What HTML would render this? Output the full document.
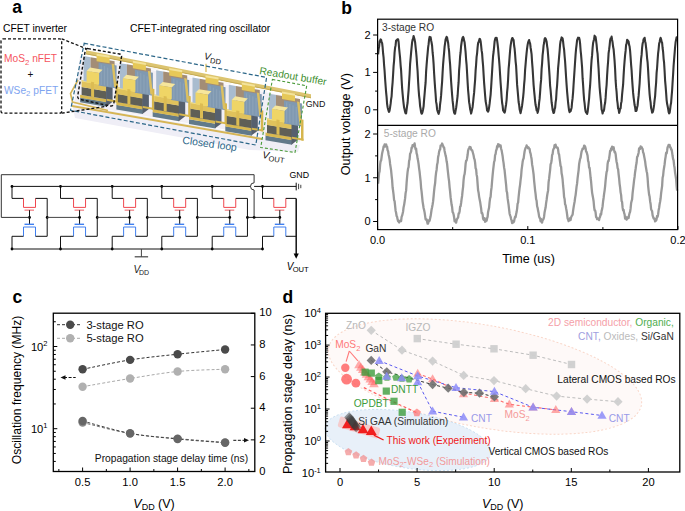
<!DOCTYPE html>
<html><head><meta charset="utf-8"><style>
html,body{margin:0;padding:0;background:#fff;}
svg{display:block;font-family:"Liberation Sans", sans-serif;}
</style></head><body>
<svg width="685" height="511" viewBox="0 0 685 511">
<defs><filter id="soft" x="-5%" y="-5%" width="110%" height="110%"><feGaussianBlur stdDeviation="0.45"/></filter></defs>
<rect width="685" height="511" fill="#fff"/>
<text x="12.30" y="12.70" font-size="17.5" fill="#000" text-anchor="start" font-weight="bold">a</text>
<text x="341.30" y="13.60" font-size="17.5" fill="#000" text-anchor="start" font-weight="bold">b</text>
<text x="12.60" y="302.60" font-size="17.5" fill="#000" text-anchor="start" font-weight="bold">c</text>
<text x="282.40" y="303.00" font-size="17.5" fill="#000" text-anchor="start" font-weight="bold">d</text>
<text x="3.00" y="31.80" font-size="10.3" fill="#000" text-anchor="start" >CFET inverter</text>
<text x="130.00" y="32.00" font-size="10.4" fill="#000" text-anchor="start" >CFET-integrated ring oscillator</text>
<polyline points="12.00,186.40 12.00,198.40 23.50,198.40" stroke="#111" stroke-width="1" fill="none" />
<polyline points="23.50,198.40 23.50,207.40 35.50,207.40 35.50,198.40" stroke="#f0474f" stroke-width="1" fill="none" />
<polyline points="35.50,198.40 47.20,198.40" stroke="#111" stroke-width="1" fill="none" />
<line x1="24.50" y1="210.20" x2="34.00" y2="210.20" stroke="#f39a9d" stroke-width="1.6" />
<line x1="29.50" y1="210.20" x2="29.50" y2="224.30" stroke="#111" stroke-width="1" />
<line x1="24.50" y1="224.30" x2="34.00" y2="224.30" stroke="#3f7ff0" stroke-width="1.4" />
<polyline points="23.50,236.30 23.50,227.00 35.50,227.00 35.50,236.30" stroke="#3f7ff0" stroke-width="1" fill="none" />
<polyline points="23.50,236.30 12.00,236.30 12.00,249.00" stroke="#111" stroke-width="1" fill="none" />
<polyline points="35.50,236.30 47.20,236.30" stroke="#111" stroke-width="1" fill="none" />
<line x1="47.20" y1="198.40" x2="47.20" y2="236.30" stroke="#111" stroke-width="1" />
<circle cx="47.20" cy="217.40" r="1.4" fill="#000"/>
<circle cx="12.00" cy="186.40" r="1.4" fill="#000"/>
<circle cx="12.00" cy="249.00" r="1.4" fill="#000"/>
<circle cx="29.50" cy="217.40" r="1.4" fill="#000"/>
<line x1="47.20" y1="217.40" x2="79.56" y2="217.40" stroke="#444" stroke-width="1" />
<polyline points="60.50,186.40 60.50,198.40 73.56,198.40" stroke="#111" stroke-width="1" fill="none" />
<polyline points="73.56,198.40 73.56,207.40 85.56,207.40 85.56,198.40" stroke="#f0474f" stroke-width="1" fill="none" />
<polyline points="85.56,198.40 97.26,198.40" stroke="#111" stroke-width="1" fill="none" />
<line x1="74.56" y1="210.20" x2="84.06" y2="210.20" stroke="#f39a9d" stroke-width="1.6" />
<line x1="79.56" y1="210.20" x2="79.56" y2="224.30" stroke="#111" stroke-width="1" />
<line x1="74.56" y1="224.30" x2="84.06" y2="224.30" stroke="#3f7ff0" stroke-width="1.4" />
<polyline points="73.56,236.30 73.56,227.00 85.56,227.00 85.56,236.30" stroke="#3f7ff0" stroke-width="1" fill="none" />
<polyline points="73.56,236.30 60.50,236.30 60.50,249.00" stroke="#111" stroke-width="1" fill="none" />
<polyline points="85.56,236.30 97.26,236.30" stroke="#111" stroke-width="1" fill="none" />
<line x1="97.26" y1="198.40" x2="97.26" y2="236.30" stroke="#111" stroke-width="1" />
<circle cx="97.26" cy="217.40" r="1.4" fill="#000"/>
<circle cx="60.50" cy="186.40" r="1.4" fill="#000"/>
<circle cx="60.50" cy="249.00" r="1.4" fill="#000"/>
<circle cx="79.56" cy="217.40" r="1.4" fill="#000"/>
<line x1="97.26" y1="217.40" x2="129.62" y2="217.40" stroke="#444" stroke-width="1" />
<polyline points="112.20,186.40 112.20,198.40 123.62,198.40" stroke="#111" stroke-width="1" fill="none" />
<polyline points="123.62,198.40 123.62,207.40 135.62,207.40 135.62,198.40" stroke="#f0474f" stroke-width="1" fill="none" />
<polyline points="135.62,198.40 147.32,198.40" stroke="#111" stroke-width="1" fill="none" />
<line x1="124.62" y1="210.20" x2="134.12" y2="210.20" stroke="#f39a9d" stroke-width="1.6" />
<line x1="129.62" y1="210.20" x2="129.62" y2="224.30" stroke="#111" stroke-width="1" />
<line x1="124.62" y1="224.30" x2="134.12" y2="224.30" stroke="#3f7ff0" stroke-width="1.4" />
<polyline points="123.62,236.30 123.62,227.00 135.62,227.00 135.62,236.30" stroke="#3f7ff0" stroke-width="1" fill="none" />
<polyline points="123.62,236.30 112.20,236.30 112.20,249.00" stroke="#111" stroke-width="1" fill="none" />
<polyline points="135.62,236.30 147.32,236.30" stroke="#111" stroke-width="1" fill="none" />
<line x1="147.32" y1="198.40" x2="147.32" y2="236.30" stroke="#111" stroke-width="1" />
<circle cx="147.32" cy="217.40" r="1.4" fill="#000"/>
<circle cx="112.20" cy="186.40" r="1.4" fill="#000"/>
<circle cx="112.20" cy="249.00" r="1.4" fill="#000"/>
<circle cx="129.62" cy="217.40" r="1.4" fill="#000"/>
<line x1="147.32" y1="217.40" x2="179.68" y2="217.40" stroke="#444" stroke-width="1" />
<polyline points="161.80,186.40 161.80,198.40 173.68,198.40" stroke="#111" stroke-width="1" fill="none" />
<polyline points="173.68,198.40 173.68,207.40 185.68,207.40 185.68,198.40" stroke="#f0474f" stroke-width="1" fill="none" />
<polyline points="185.68,198.40 197.38,198.40" stroke="#111" stroke-width="1" fill="none" />
<line x1="174.68" y1="210.20" x2="184.18" y2="210.20" stroke="#f39a9d" stroke-width="1.6" />
<line x1="179.68" y1="210.20" x2="179.68" y2="224.30" stroke="#111" stroke-width="1" />
<line x1="174.68" y1="224.30" x2="184.18" y2="224.30" stroke="#3f7ff0" stroke-width="1.4" />
<polyline points="173.68,236.30 173.68,227.00 185.68,227.00 185.68,236.30" stroke="#3f7ff0" stroke-width="1" fill="none" />
<polyline points="173.68,236.30 161.80,236.30 161.80,249.00" stroke="#111" stroke-width="1" fill="none" />
<polyline points="185.68,236.30 197.38,236.30" stroke="#111" stroke-width="1" fill="none" />
<line x1="197.38" y1="198.40" x2="197.38" y2="236.30" stroke="#111" stroke-width="1" />
<circle cx="197.38" cy="217.40" r="1.4" fill="#000"/>
<circle cx="161.80" cy="186.40" r="1.4" fill="#000"/>
<circle cx="161.80" cy="249.00" r="1.4" fill="#000"/>
<circle cx="179.68" cy="217.40" r="1.4" fill="#000"/>
<line x1="197.38" y1="217.40" x2="229.74" y2="217.40" stroke="#444" stroke-width="1" />
<polyline points="212.20,186.40 212.20,198.40 223.74,198.40" stroke="#111" stroke-width="1" fill="none" />
<polyline points="223.74,198.40 223.74,207.40 235.74,207.40 235.74,198.40" stroke="#f0474f" stroke-width="1" fill="none" />
<polyline points="235.74,198.40 247.44,198.40" stroke="#111" stroke-width="1" fill="none" />
<line x1="224.74" y1="210.20" x2="234.24" y2="210.20" stroke="#f39a9d" stroke-width="1.6" />
<line x1="229.74" y1="210.20" x2="229.74" y2="224.30" stroke="#111" stroke-width="1" />
<line x1="224.74" y1="224.30" x2="234.24" y2="224.30" stroke="#3f7ff0" stroke-width="1.4" />
<polyline points="223.74,236.30 223.74,227.00 235.74,227.00 235.74,236.30" stroke="#3f7ff0" stroke-width="1" fill="none" />
<polyline points="223.74,236.30 212.20,236.30 212.20,249.00" stroke="#111" stroke-width="1" fill="none" />
<polyline points="235.74,236.30 247.44,236.30" stroke="#111" stroke-width="1" fill="none" />
<line x1="247.44" y1="198.40" x2="247.44" y2="236.30" stroke="#111" stroke-width="1" />
<circle cx="247.44" cy="217.40" r="1.4" fill="#000"/>
<circle cx="212.20" cy="186.40" r="1.4" fill="#000"/>
<circle cx="212.20" cy="249.00" r="1.4" fill="#000"/>
<circle cx="229.74" cy="217.40" r="1.4" fill="#000"/>
<polyline points="262.50,186.40 262.50,198.40 273.80,198.40" stroke="#111" stroke-width="1" fill="none" />
<polyline points="273.80,198.40 273.80,207.40 285.80,207.40 285.80,198.40" stroke="#f0474f" stroke-width="1" fill="none" />
<polyline points="285.80,198.40 296.20,198.40" stroke="#111" stroke-width="1" fill="none" />
<line x1="274.80" y1="210.20" x2="284.30" y2="210.20" stroke="#f39a9d" stroke-width="1.6" />
<line x1="279.80" y1="210.20" x2="279.80" y2="224.30" stroke="#111" stroke-width="1" />
<line x1="274.80" y1="224.30" x2="284.30" y2="224.30" stroke="#3f7ff0" stroke-width="1.4" />
<polyline points="273.80,236.30 273.80,227.00 285.80,227.00 285.80,236.30" stroke="#3f7ff0" stroke-width="1" fill="none" />
<polyline points="273.80,236.30 262.50,236.30 262.50,249.00" stroke="#111" stroke-width="1" fill="none" />
<polyline points="285.80,236.30 296.20,236.30" stroke="#111" stroke-width="1" fill="none" />
<circle cx="262.50" cy="186.40" r="1.4" fill="#000"/>
<circle cx="262.50" cy="249.00" r="1.4" fill="#000"/>
<circle cx="279.80" cy="217.40" r="1.4" fill="#000"/>
<line x1="247.44" y1="217.40" x2="279.80" y2="217.40" stroke="#222" stroke-width="1" />
<circle cx="254.10" cy="217.40" r="1.4" fill="#000"/>
<line x1="12.00" y1="186.40" x2="250.60" y2="186.40" stroke="#111" stroke-width="1" />
<line x1="254.10" y1="186.40" x2="296.20" y2="186.40" stroke="#111" stroke-width="1" />
<path d="M254.1,217.4 L254.1,190 A3.6,3.6 0 0 1 254.1,182.8 L254.1,174.7 L1.3,174.7 L1.3,217.4 L29.5,217.4" stroke="#333" stroke-width="1" fill="none"/>
<line x1="12.00" y1="249.00" x2="262.50" y2="249.00" stroke="#111" stroke-width="1" />
<line x1="141.40" y1="249.00" x2="141.40" y2="256.80" stroke="#444" stroke-width="1" />
<line x1="134.70" y1="256.80" x2="148.10" y2="256.80" stroke="#444" stroke-width="1.2" />
<line x1="296.20" y1="182.70" x2="296.20" y2="190.40" stroke="#111" stroke-width="1" />
<line x1="298.60" y1="183.80" x2="298.60" y2="189.20" stroke="#111" stroke-width="0.8" />
<line x1="300.80" y1="184.80" x2="300.80" y2="188.20" stroke="#111" stroke-width="0.8" />
<text x="289.50" y="178.00" font-size="8.8" fill="#000" text-anchor="start" >GND</text>
<line x1="296.20" y1="198.40" x2="296.20" y2="254.00" stroke="#111" stroke-width="1.5" />
<path d="M293.6,253.5 L298.8,253.5 L296.2,258.7 Z" fill="#000"/>
<text x="286.80" y="269.50" font-size="10" fill="#000" text-anchor="start" ><tspan font-style="italic">V</tspan><tspan font-size="7.6" dy="2" dx="-0.8">OUT</tspan></text>
<text x="133.40" y="272.60" font-size="10.2" fill="#222" text-anchor="start" ><tspan font-style="italic">V</tspan><tspan font-size="7" dy="2.4" dx="-1.2">DD</tspan></text>
<path d="M378.10,54.34 L378.60,49.17 L379.10,46.45 L379.60,41.31 L380.10,40.88 L380.60,39.43 L381.10,39.77 L381.60,42.17 L382.10,42.97 L382.60,47.04 L383.10,53.49 L383.60,57.61 L384.10,65.26 L384.60,71.03 L385.10,79.05 L385.60,85.74 L386.10,92.16 L386.60,97.20 L387.10,103.96 L387.60,107.25 L388.10,109.21 L388.60,110.96 L389.10,111.93 L389.60,110.39 L390.10,107.34 L390.60,103.93 L391.10,99.40 L391.60,96.30 L392.10,88.16 L392.60,82.47 L393.10,74.47 L393.60,65.86 L394.10,60.60 L394.60,52.28 L395.10,47.66 L395.60,45.18 L396.10,40.43 L396.60,40.33 L397.10,39.54 L397.60,39.24 L398.10,39.20 L398.60,41.97 L399.10,48.29 L399.60,53.27 L400.10,57.97 L400.60,65.03 L401.10,70.36 L401.60,79.42 L402.10,87.89 L402.60,93.74 L403.10,99.04 L403.60,103.61 L404.10,107.55 L404.60,109.53 L405.10,111.99 L405.60,113.27 L406.10,113.46 L406.60,109.58 L407.10,105.91 L407.60,102.73 L408.10,96.10 L408.60,90.04 L409.10,81.94 L409.60,74.21 L410.10,63.98 L410.60,58.45 L411.10,52.67 L411.60,47.40 L412.10,42.34 L412.60,39.70 L413.10,38.60 L413.60,36.00 L414.10,37.89 L414.60,39.66 L415.10,42.17 L415.60,47.19 L416.10,51.73 L416.60,57.46 L417.10,64.91 L417.60,71.25 L418.10,81.48 L418.60,89.56 L419.10,95.86 L419.60,99.86 L420.10,106.12 L420.60,108.92 L421.10,112.28 L421.60,113.77 L422.10,113.22 L422.60,111.64 L423.10,109.23 L423.60,106.33 L424.10,99.65 L424.60,94.02 L425.10,87.82 L425.60,82.72 L426.10,71.68 L426.60,64.89 L427.10,58.66 L427.60,53.40 L428.10,47.68 L428.60,44.13 L429.10,39.34 L429.60,36.91 L430.10,37.09 L430.60,37.25 L431.10,40.28 L431.60,42.73 L432.10,45.78 L432.60,52.46 L433.10,57.04 L433.60,63.92 L434.10,73.00 L434.60,80.86 L435.10,87.97 L435.60,94.25 L436.10,101.90 L436.60,104.31 L437.10,109.47 L437.60,111.27 L438.10,112.67 L438.60,113.82 L439.10,112.22 L439.60,109.89 L440.10,104.20 L440.60,100.46 L441.10,95.39 L441.60,88.19 L442.10,81.89 L442.60,72.49 L443.10,64.39 L443.60,58.21 L444.10,52.81 L444.60,46.62 L445.10,43.09 L445.60,39.44 L446.10,38.27 L446.60,36.82 L447.10,37.53 L447.60,40.63 L448.10,42.56 L448.60,47.46 L449.10,51.42 L449.60,58.73 L450.10,64.34 L450.60,72.83 L451.10,81.30 L451.60,88.09 L452.10,94.94 L452.60,100.70 L453.10,105.23 L453.60,109.93 L454.10,112.59 L454.60,113.62 L455.10,113.70 L455.60,110.60 L456.10,108.01 L456.60,104.30 L457.10,100.20 L457.60,95.95 L458.10,88.28 L458.60,82.17 L459.10,70.37 L459.60,64.47 L460.10,56.48 L460.60,52.24 L461.10,46.02 L461.60,42.52 L462.10,39.53 L462.60,37.70 L463.10,36.98 L463.60,37.97 L464.10,40.65 L464.60,42.30 L465.10,47.22 L465.60,52.16 L466.10,59.54 L466.60,64.78 L467.10,73.22 L467.60,82.07 L468.10,90.26 L468.60,95.71 L469.10,102.14 L469.60,104.82 L470.10,108.98 L470.60,110.94 L471.10,113.59 L471.60,111.65 L472.10,109.36 L472.60,106.93 L473.10,102.29 L473.60,97.20 L474.10,92.88 L474.60,86.20 L475.10,80.17 L475.60,70.70 L476.10,64.58 L476.60,56.91 L477.10,53.31 L477.60,47.33 L478.10,42.93 L478.60,42.09 L479.10,40.46 L479.60,38.88 L480.10,39.16 L480.60,41.21 L481.10,45.43 L481.60,50.39 L482.10,53.41 L482.60,60.40 L483.10,65.98 L483.60,74.38 L484.10,82.61 L484.60,88.86 L485.10,95.22 L485.60,101.03 L486.10,103.82 L486.60,106.47 L487.10,110.67 L487.60,110.91 L488.10,111.69 L488.60,110.41 L489.10,107.37 L489.60,103.68 L490.10,99.06 L490.60,94.82 L491.10,87.74 L491.60,79.69 L492.10,71.41 L492.60,62.95 L493.10,55.76 L493.60,51.99 L494.10,47.02 L494.60,41.59 L495.10,39.21 L495.60,37.86 L496.10,38.25 L496.60,37.74 L497.10,40.34 L497.60,44.13 L498.10,48.44 L498.60,54.64 L499.10,60.22 L499.60,66.77 L500.10,74.88 L500.60,82.72 L501.10,89.37 L501.60,97.02 L502.10,102.77 L502.60,105.57 L503.10,110.32 L503.60,111.05 L504.10,111.98 L504.60,112.58 L505.10,110.92 L505.60,107.21 L506.10,104.23 L506.60,100.00 L507.10,92.09 L507.60,87.04 L508.10,79.39 L508.60,68.95 L509.10,63.62 L509.60,56.78 L510.10,50.51 L510.60,45.63 L511.10,42.57 L511.60,39.96 L512.10,38.27 L512.60,38.08 L513.10,39.19 L513.60,40.02 L514.10,45.49 L514.60,48.57 L515.10,54.53 L515.60,61.32 L516.10,65.84 L516.60,74.83 L517.10,84.67 L517.60,90.13 L518.10,95.81 L518.60,101.98 L519.10,104.71 L519.60,109.22 L520.10,111.17 L520.60,113.18 L521.10,110.52 L521.60,108.21 L522.10,105.46 L522.60,101.48 L523.10,97.35 L523.60,92.11 L524.10,84.71 L524.60,79.28 L525.10,69.93 L525.60,64.05 L526.10,58.09 L526.60,52.96 L527.10,48.35 L527.60,44.88 L528.10,42.40 L528.60,41.19 L529.10,40.01 L529.60,42.22 L530.10,43.34 L530.60,47.49 L531.10,50.77 L531.60,54.33 L532.10,62.40 L532.60,68.66 L533.10,76.76 L533.60,84.84 L534.10,90.56 L534.60,95.70 L535.10,101.01 L535.60,105.10 L536.10,107.14 L536.60,110.43 L537.10,108.88 L537.60,112.84 L538.10,110.92 L538.60,108.20 L539.10,102.64 L539.60,98.92 L540.10,92.45 L540.60,84.83 L541.10,79.89 L541.60,69.01 L542.10,63.38 L542.60,55.10 L543.10,50.78 L543.60,45.35 L544.10,43.01 L544.60,39.00 L545.10,38.11 L545.60,38.49 L546.10,39.95 L546.60,41.61 L547.10,45.87 L547.60,49.20 L548.10,55.15 L548.60,61.89 L549.10,69.07 L549.60,76.32 L550.10,85.61 L550.60,90.25 L551.10,96.06 L551.60,102.27 L552.10,105.68 L552.60,109.71 L553.10,111.56 L553.60,113.04 L554.10,112.41 L554.60,109.24 L555.10,107.89 L555.60,102.34 L556.10,99.04 L556.60,90.76 L557.10,85.33 L557.60,77.44 L558.10,68.10 L558.60,62.75 L559.10,56.81 L559.60,51.25 L560.10,44.42 L560.60,41.02 L561.10,39.67 L561.60,37.43 L562.10,37.87 L562.60,38.46 L563.10,41.54 L563.60,46.33 L564.10,49.59 L564.60,56.01 L565.10,61.50 L565.60,69.38 L566.10,77.55 L566.60,84.81 L567.10,91.69 L567.60,97.05 L568.10,102.74 L568.60,106.86 L569.10,110.53 L569.60,112.17 L570.10,111.33 L570.60,111.14 L571.10,109.41 L571.60,107.67 L572.10,102.22 L572.60,98.16 L573.10,92.36 L573.60,84.29 L574.10,76.62 L574.60,69.28 L575.10,61.67 L575.60,54.40 L576.10,48.53 L576.60,44.67 L577.10,40.23 L577.60,38.94 L578.10,37.67 L578.60,38.27 L579.10,37.77 L579.60,39.74 L580.10,43.68 L580.60,50.27 L581.10,55.10 L581.60,61.29 L582.10,67.60 L582.60,78.20 L583.10,84.87 L583.60,93.04 L584.10,99.62 L584.60,103.38 L585.10,108.48 L585.60,111.41 L586.10,112.56 L586.60,112.68 L587.10,113.93 L587.60,112.02 L588.10,107.98 L588.60,103.15 L589.10,98.50 L589.60,91.11 L590.10,85.69 L590.60,77.44 L591.10,67.24 L591.60,59.78 L592.10,55.15 L592.60,47.85 L593.10,43.07 L593.60,40.91 L594.10,39.17 L594.60,35.68 L595.10,36.91 L595.60,37.09 L596.10,40.57 L596.60,44.57 L597.10,50.27 L597.60,53.88 L598.10,61.91 L598.60,69.03 L599.10,78.77 L599.60,87.11 L600.10,92.87 L600.60,97.99 L601.10,102.90 L601.60,109.38 L602.10,111.01 L602.60,113.49 L603.10,111.35 L603.60,111.22 L604.10,109.63 L604.60,105.30 L605.10,103.06 L605.60,97.91 L606.10,90.23 L606.60,84.98 L607.10,75.48 L607.60,67.73 L608.10,61.53 L608.60,53.13 L609.10,49.69 L609.60,45.60 L610.10,40.42 L610.60,38.41 L611.10,38.98 L611.60,36.65 L612.10,39.89 L612.60,42.51 L613.10,46.84 L613.60,49.21 L614.10,54.98 L614.60,61.13 L615.10,69.14 L615.60,80.20 L616.10,87.18 L616.60,91.99 L617.10,99.80 L617.60,103.46 L618.10,108.53 L618.60,109.07 L619.10,112.97 L619.60,111.33 L620.10,108.47 L620.60,108.41 L621.10,103.25 L621.60,101.15 L622.10,94.36 L622.60,89.30 L623.10,84.72 L623.60,75.33 L624.10,67.27 L624.60,60.89 L625.10,55.11 L625.60,50.93 L626.10,44.83 L626.60,43.61 L627.10,39.78 L627.60,40.33 L628.10,41.13 L628.60,41.61 L629.10,44.93 L629.60,46.55 L630.10,50.78 L630.60,57.37 L631.10,64.56 L631.60,70.42 L632.10,79.00 L632.60,86.07 L633.10,92.68 L633.60,97.35 L634.10,101.08 L634.60,105.02 L635.10,107.27 L635.60,111.00 L636.10,111.03 L636.60,110.36 L637.10,107.42 L637.60,105.47 L638.10,100.16 L638.60,95.89 L639.10,89.70 L639.60,83.55 L640.10,74.49 L640.60,65.82 L641.10,58.83 L641.60,54.88 L642.10,47.93 L642.60,43.70 L643.10,41.78 L643.60,39.29 L644.10,38.73 L644.60,37.74 L645.10,41.18 L645.60,43.31 L646.10,47.71 L646.60,52.00 L647.10,58.37 L647.60,62.37 L648.10,69.92 L648.60,78.99 L649.10,87.05 L649.60,94.19 L650.10,99.08 L650.60,102.46 L651.10,108.04 L651.60,109.62 L652.10,112.60 L652.60,112.36 L653.10,110.95 L653.60,108.27 L654.10,104.91 L654.60,100.05 L655.10,96.37 L655.60,88.91 L656.10,82.97 L656.60,72.85 L657.10,67.75 L657.60,60.15 L658.10,53.26 L658.60,49.26 L659.10,43.89 L659.60,42.05 L660.10,39.38 L660.60,37.79 L661.10,39.13 L661.60,41.61 L662.10,42.71 L662.60,48.01 L663.10,51.77 L663.60,58.54 L664.10,62.99 L664.60,70.99 L665.10,80.62 L665.60,86.04 L666.10,92.65 L666.60,99.86 L667.10,103.80 L667.60,105.96 L668.10,108.64 L668.60,111.86 L669.10,113.38 L669.60,112.84 L670.10,109.69 L670.60,105.27 L671.10,102.78 L671.60,96.41 L672.10,90.48 L672.60,82.31 L673.10,74.48 L673.60,65.69 L674.10,59.36 L674.60,53.32 L675.10,46.99 L675.60,42.29 L676.10,39.60 L676.60,37.32 L677.10,38.02" stroke="#363636" stroke-width="2.1" fill="none" stroke-linejoin="round"/>
<path d="M378.10,183.75 L378.60,178.58 L379.10,173.06 L379.60,171.33 L380.10,164.80 L380.60,161.15 L381.10,160.66 L381.60,157.04 L382.10,153.44 L382.60,151.24 L383.10,149.38 L383.60,146.39 L384.10,146.45 L384.60,144.47 L385.10,146.64 L385.60,145.08 L386.10,144.36 L386.60,146.49 L387.10,146.78 L387.60,150.41 L388.10,151.16 L388.60,154.78 L389.10,156.83 L389.60,159.49 L390.10,163.99 L390.60,167.07 L391.10,170.37 L391.60,175.67 L392.10,180.12 L392.60,187.46 L393.10,190.77 L393.60,194.89 L394.10,200.26 L394.60,201.09 L395.10,205.97 L395.60,210.73 L396.10,212.73 L396.60,215.96 L397.10,216.89 L397.60,219.44 L398.10,221.10 L398.60,220.95 L399.10,222.52 L399.60,221.40 L400.10,220.70 L400.60,220.65 L401.10,221.15 L401.60,216.94 L402.10,215.69 L402.60,213.65 L403.10,211.47 L403.60,207.15 L404.10,205.07 L404.60,201.71 L405.10,198.42 L405.60,193.15 L406.10,190.63 L406.60,182.95 L407.10,176.93 L407.60,171.84 L408.10,168.50 L408.60,167.02 L409.10,160.93 L409.60,159.47 L410.10,153.69 L410.60,152.70 L411.10,151.50 L411.60,147.69 L412.10,147.87 L412.60,145.07 L413.10,146.03 L413.60,145.91 L414.10,144.97 L414.60,143.43 L415.10,146.99 L415.60,149.33 L416.10,148.73 L416.60,153.29 L417.10,154.84 L417.60,158.56 L418.10,160.80 L418.60,164.13 L419.10,168.33 L419.60,171.91 L420.10,176.57 L420.60,181.04 L421.10,187.79 L421.60,191.57 L422.10,196.69 L422.60,201.59 L423.10,204.73 L423.60,207.96 L424.10,209.96 L424.60,212.36 L425.10,215.96 L425.60,219.38 L426.10,219.60 L426.60,219.45 L427.10,221.43 L427.60,223.66 L428.10,223.61 L428.60,220.30 L429.10,221.22 L429.60,220.84 L430.10,218.58 L430.60,216.30 L431.10,213.03 L431.60,209.53 L432.10,207.22 L432.60,204.51 L433.10,201.40 L433.60,196.35 L434.10,190.98 L434.60,186.49 L435.10,183.29 L435.60,176.81 L436.10,172.54 L436.60,169.95 L437.10,164.60 L437.60,162.79 L438.10,157.14 L438.60,155.03 L439.10,151.88 L439.60,149.92 L440.10,149.53 L440.60,145.53 L441.10,145.37 L441.60,145.11 L442.10,143.54 L442.60,144.69 L443.10,145.84 L443.60,147.28 L444.10,147.49 L444.60,150.91 L445.10,153.22 L445.60,155.62 L446.10,157.53 L446.60,161.30 L447.10,163.83 L447.60,168.96 L448.10,173.36 L448.60,177.87 L449.10,181.46 L449.60,187.31 L450.10,191.68 L450.60,197.21 L451.10,200.96 L451.60,204.78 L452.10,207.08 L452.60,212.02 L453.10,212.70 L453.60,214.53 L454.10,217.31 L454.60,221.28 L455.10,219.65 L455.60,220.81 L456.10,222.67 L456.60,220.23 L457.10,219.06 L457.60,218.14 L458.10,217.57 L458.60,213.52 L459.10,213.52 L459.60,211.56 L460.10,206.81 L460.60,206.21 L461.10,202.99 L461.60,199.19 L462.10,195.95 L462.60,190.85 L463.10,186.82 L463.60,179.78 L464.10,175.74 L464.60,174.18 L465.10,170.02 L465.60,163.86 L466.10,160.81 L466.60,160.62 L467.10,158.13 L467.60,155.02 L468.10,150.59 L468.60,148.98 L469.10,148.57 L469.60,146.83 L470.10,148.24 L470.60,147.25 L471.10,149.18 L471.60,150.21 L472.10,150.18 L472.60,151.70 L473.10,153.57 L473.60,155.44 L474.10,158.35 L474.60,159.46 L475.10,162.58 L475.60,168.19 L476.10,169.22 L476.60,174.64 L477.10,177.07 L477.60,183.92 L478.10,190.30 L478.60,192.72 L479.10,196.61 L479.60,199.26 L480.10,201.67 L480.60,205.16 L481.10,208.22 L481.60,213.24 L482.10,212.76 L482.60,214.46 L483.10,218.81 L483.60,219.70 L484.10,219.18 L484.60,218.26 L485.10,221.72 L485.60,221.60 L486.10,219.39 L486.60,220.78 L487.10,218.26 L487.60,216.92 L488.10,211.92 L488.60,209.70 L489.10,207.50 L489.60,202.11 L490.10,198.24 L490.60,196.84 L491.10,190.73 L491.60,187.13 L492.10,181.03 L492.60,175.33 L493.10,170.31 L493.60,166.12 L494.10,161.92 L494.60,160.64 L495.10,155.12 L495.60,154.04 L496.10,150.44 L496.60,149.56 L497.10,146.26 L497.60,147.37 L498.10,144.15 L498.60,144.81 L499.10,144.67 L499.60,146.23 L500.10,145.31 L500.60,145.36 L501.10,148.75 L501.60,150.32 L502.10,153.14 L502.60,155.95 L503.10,160.12 L503.60,163.17 L504.10,167.65 L504.60,170.29 L505.10,175.31 L505.60,180.05 L506.10,184.77 L506.60,191.09 L507.10,192.71 L507.60,198.16 L508.10,201.67 L508.60,205.21 L509.10,209.33 L509.60,213.71 L510.10,215.41 L510.60,216.64 L511.10,219.01 L511.60,220.44 L512.10,223.12 L512.60,222.74 L513.10,221.30 L513.60,222.17 L514.10,221.34 L514.60,218.59 L515.10,216.69 L515.60,217.13 L516.10,214.35 L516.60,212.10 L517.10,208.86 L517.60,203.71 L518.10,202.63 L518.60,197.02 L519.10,192.36 L519.60,188.16 L520.10,184.56 L520.60,179.79 L521.10,175.99 L521.60,169.63 L522.10,166.06 L522.60,162.07 L523.10,159.47 L523.60,158.73 L524.10,154.92 L524.60,151.52 L525.10,149.29 L525.60,147.84 L526.10,147.30 L526.60,145.43 L527.10,146.65 L527.60,147.14 L528.10,148.40 L528.60,147.58 L529.10,148.57 L529.60,148.88 L530.10,152.25 L530.60,153.62 L531.10,156.56 L531.60,159.03 L532.10,164.45 L532.60,167.11 L533.10,170.56 L533.60,174.36 L534.10,180.58 L534.60,185.45 L535.10,190.32 L535.60,194.13 L536.10,199.23 L536.60,200.76 L537.10,206.26 L537.60,207.77 L538.10,210.85 L538.60,213.09 L539.10,216.44 L539.60,217.93 L540.10,218.24 L540.60,221.44 L541.10,219.07 L541.60,220.92 L542.10,222.54 L542.60,219.75 L543.10,219.70 L543.60,218.81 L544.10,216.41 L544.60,212.20 L545.10,209.73 L545.60,207.58 L546.10,203.16 L546.60,199.98 L547.10,196.01 L547.60,192.91 L548.10,190.41 L548.60,182.08 L549.10,178.66 L549.60,174.24 L550.10,170.09 L550.60,164.33 L551.10,163.33 L551.60,160.56 L552.10,154.99 L552.60,154.14 L553.10,150.17 L553.60,148.93 L554.10,148.16 L554.60,145.04 L555.10,147.04 L555.60,144.65 L556.10,146.96 L556.60,147.52 L557.10,147.49 L557.60,147.59 L558.10,149.49 L558.60,153.62 L559.10,154.44 L559.60,158.68 L560.10,162.19 L560.60,165.99 L561.10,166.86 L561.60,173.32 L562.10,175.75 L562.60,179.47 L563.10,185.73 L563.60,190.34 L564.10,197.07 L564.60,198.97 L565.10,204.40 L565.60,205.07 L566.10,208.30 L566.60,210.94 L567.10,214.49 L567.60,218.44 L568.10,219.35 L568.60,221.10 L569.10,220.40 L569.60,219.76 L570.10,218.22 L570.60,220.02 L571.10,217.38 L571.60,216.22 L572.10,215.35 L572.60,214.72 L573.10,210.67 L573.60,207.43 L574.10,204.39 L574.60,201.75 L575.10,197.86 L575.60,195.11 L576.10,190.77 L576.60,186.42 L577.10,183.48 L577.60,178.04 L578.10,174.21 L578.60,170.35 L579.10,164.32 L579.60,161.47 L580.10,158.90 L580.60,157.74 L581.10,154.24 L581.60,151.43 L582.10,150.22 L582.60,148.65 L583.10,148.94 L583.60,148.48 L584.10,145.64 L584.60,145.86 L585.10,146.53 L585.60,148.21 L586.10,151.56 L586.60,151.99 L587.10,153.85 L587.60,155.84 L588.10,160.90 L588.60,162.26 L589.10,167.77 L589.60,167.92 L590.10,172.65 L590.60,177.75 L591.10,181.73 L591.60,187.65 L592.10,192.62 L592.60,195.44 L593.10,198.12 L593.60,201.23 L594.10,206.87 L594.60,210.34 L595.10,210.34 L595.60,212.51 L596.10,217.08 L596.60,217.28 L597.10,219.14 L597.60,218.91 L598.10,218.57 L598.60,218.64 L599.10,220.13 L599.60,217.62 L600.10,216.90 L600.60,213.86 L601.10,214.63 L601.60,210.91 L602.10,209.11 L602.60,206.21 L603.10,201.29 L603.60,197.96 L604.10,193.84 L604.60,190.57 L605.10,186.33 L605.60,180.67 L606.10,175.79 L606.60,172.01 L607.10,170.71 L607.60,163.93 L608.10,161.30 L608.60,160.96 L609.10,158.50 L609.60,155.11 L610.10,150.99 L610.60,151.05 L611.10,148.50 L611.60,149.98 L612.10,146.71 L612.60,148.46 L613.10,147.94 L613.60,147.24 L614.10,149.96 L614.60,152.23 L615.10,151.98 L615.60,153.95 L616.10,158.26 L616.60,162.00 L617.10,163.87 L617.60,168.12 L618.10,169.22 L618.60,174.10 L619.10,178.25 L619.60,183.80 L620.10,187.43 L620.60,192.36 L621.10,194.90 L621.60,201.04 L622.10,202.05 L622.60,207.64 L623.10,210.27 L623.60,209.85 L624.10,212.83 L624.60,214.31 L625.10,218.71 L625.60,216.56 L626.10,218.91 L626.60,219.62 L627.10,218.78 L627.60,217.48 L628.10,217.03 L628.60,218.02 L629.10,214.96 L629.60,212.92 L630.10,211.79 L630.60,208.46 L631.10,203.30 L631.60,201.06 L632.10,199.36 L632.60,193.20 L633.10,188.92 L633.60,184.57 L634.10,180.17 L634.60,176.92 L635.10,172.21 L635.60,169.01 L636.10,165.15 L636.60,162.75 L637.10,157.07 L637.60,156.48 L638.10,154.65 L638.60,152.96 L639.10,148.37 L639.60,149.12 L640.10,148.99 L640.60,146.48 L641.10,146.92 L641.60,147.03 L642.10,148.33 L642.60,148.91 L643.10,152.46 L643.60,153.28 L644.10,155.92 L644.60,158.60 L645.10,161.18 L645.60,165.33 L646.10,168.29 L646.60,171.27 L647.10,173.27 L647.60,178.14 L648.10,185.54 L648.60,190.37 L649.10,194.59 L649.60,196.52 L650.10,201.17 L650.60,203.93 L651.10,209.08 L651.60,210.34 L652.10,211.09 L652.60,215.37 L653.10,216.86 L653.60,218.49 L654.10,218.80 L654.60,218.77 L655.10,221.46 L655.60,220.70 L656.10,220.66 L656.60,219.09 L657.10,215.86 L657.60,216.78 L658.10,214.41 L658.60,210.35 L659.10,208.00 L659.60,204.24 L660.10,201.75 L660.60,198.52 L661.10,193.35 L661.60,189.62 L662.10,186.08 L662.60,177.84 L663.10,175.76 L663.60,170.61 L664.10,167.45 L664.60,164.40 L665.10,159.79 L665.60,156.84 L666.10,152.80 L666.60,153.43 L667.10,150.70 L667.60,147.24 L668.10,146.35 L668.60,144.88 L669.10,145.56 L669.60,144.96 L670.10,147.37 L670.60,147.40 L671.10,149.36 L671.60,149.31 L672.10,152.46 L672.60,156.06 L673.10,159.03 L673.60,160.33 L674.10,165.17 L674.60,167.79 L675.10,172.87 L675.60,175.76 L676.10,179.06 L676.60,186.21 L677.10,190.64" stroke="#999999" stroke-width="2.3" fill="none" stroke-linejoin="round"/>
<rect x="377.6" y="19.2" width="300.0" height="210.4" fill="none" stroke="#000" stroke-width="1.2"/>
<line x1="377.60" y1="125.30" x2="677.60" y2="125.30" stroke="#000" stroke-width="1.2" />
<line x1="373.10" y1="109.80" x2="377.60" y2="109.80" stroke="#000" stroke-width="1" />
<text x="370.60" y="113.70" font-size="11" fill="#000" text-anchor="end" >0</text>
<line x1="373.10" y1="221.50" x2="377.60" y2="221.50" stroke="#000" stroke-width="1" />
<text x="370.60" y="225.40" font-size="11" fill="#000" text-anchor="end" >0</text>
<line x1="373.10" y1="72.40" x2="377.60" y2="72.40" stroke="#000" stroke-width="1" />
<text x="370.60" y="76.30" font-size="11" fill="#000" text-anchor="end" >1</text>
<line x1="373.10" y1="177.75" x2="377.60" y2="177.75" stroke="#000" stroke-width="1" />
<text x="370.60" y="181.65" font-size="11" fill="#000" text-anchor="end" >1</text>
<line x1="373.10" y1="35.00" x2="377.60" y2="35.00" stroke="#000" stroke-width="1" />
<text x="370.60" y="38.90" font-size="11" fill="#000" text-anchor="end" >2</text>
<line x1="373.10" y1="134.00" x2="377.60" y2="134.00" stroke="#000" stroke-width="1" />
<text x="370.60" y="137.90" font-size="11" fill="#000" text-anchor="end" >2</text>
<line x1="375.10" y1="91.10" x2="377.60" y2="91.10" stroke="#000" stroke-width="1" />
<line x1="375.10" y1="199.62" x2="377.60" y2="199.62" stroke="#000" stroke-width="1" />
<line x1="375.10" y1="53.70" x2="377.60" y2="53.70" stroke="#000" stroke-width="1" />
<line x1="375.10" y1="155.88" x2="377.60" y2="155.88" stroke="#000" stroke-width="1" />
<line x1="377.60" y1="229.60" x2="377.60" y2="226.10" stroke="#000" stroke-width="1" />
<text x="377.60" y="243.80" font-size="11" fill="#000" text-anchor="middle" >0.0</text>
<line x1="527.80" y1="229.60" x2="527.80" y2="226.10" stroke="#000" stroke-width="1" />
<text x="527.80" y="243.80" font-size="11" fill="#000" text-anchor="middle" >0.1</text>
<line x1="678.00" y1="229.60" x2="678.00" y2="226.10" stroke="#000" stroke-width="1" />
<text x="678.00" y="243.80" font-size="11" fill="#000" text-anchor="middle" >0.2</text>
<line x1="452.70" y1="229.60" x2="452.70" y2="227.10" stroke="#000" stroke-width="1" />
<line x1="602.90" y1="229.60" x2="602.90" y2="227.10" stroke="#000" stroke-width="1" />
<text x="382.00" y="31.00" font-size="10.2" fill="#333" text-anchor="start" >3-stage RO</text>
<text x="383.80" y="137.20" font-size="10.2" fill="#aaa" text-anchor="start" >5-stage RO</text>
<text x="528.50" y="262.80" font-size="12.6" fill="#000" text-anchor="middle" >Time (us)</text>
<text transform="translate(350.3,124.2) rotate(-90)" font-size="12.6" text-anchor="middle">Output voltage (V)</text>
<path d="M82.60,369.30 C90.52,367.73 114.27,362.42 130.10,359.90 C145.93,357.38 161.77,355.93 177.60,354.20 C193.43,352.47 217.18,350.28 225.10,349.50" stroke="#333" stroke-width="1" stroke-dasharray="3,2" fill="none"/>
<circle cx="82.60" cy="369.30" r="4.2" fill="#4a4a4a"/>
<circle cx="130.10" cy="359.90" r="4.2" fill="#4a4a4a"/>
<circle cx="177.60" cy="354.20" r="4.2" fill="#4a4a4a"/>
<circle cx="225.10" cy="349.50" r="4.2" fill="#4a4a4a"/>
<path d="M82.60,386.70 C90.52,385.33 114.27,381.03 130.10,378.50 C145.93,375.97 161.77,373.05 177.60,371.50 C193.43,369.95 217.18,369.58 225.10,369.20" stroke="#aaa" stroke-width="1" stroke-dasharray="3,2" fill="none"/>
<circle cx="82.60" cy="386.70" r="4.2" fill="#b0b0b0"/>
<circle cx="130.10" cy="378.50" r="4.2" fill="#b0b0b0"/>
<circle cx="177.60" cy="371.50" r="4.2" fill="#b0b0b0"/>
<circle cx="225.10" cy="369.20" r="4.2" fill="#b0b0b0"/>
<path d="M82.60,422.50 C90.52,424.35 114.27,430.92 130.10,433.60 C145.93,436.28 161.77,437.13 177.60,438.60 C193.43,440.07 217.18,441.77 225.10,442.40" stroke="#777" stroke-width="1" stroke-dasharray="3,2" fill="none"/>
<circle cx="82.60" cy="422.50" r="4.2" fill="#8a8a8a"/>
<circle cx="130.10" cy="433.60" r="4.2" fill="#8a8a8a"/>
<circle cx="177.60" cy="438.60" r="4.2" fill="#8a8a8a"/>
<circle cx="225.10" cy="442.40" r="4.2" fill="#8a8a8a"/>
<path d="M82.60,421.00 C90.52,423.05 114.27,430.30 130.10,433.30 C145.93,436.30 161.77,437.42 177.60,439.00 C193.43,440.58 217.18,442.17 225.10,442.80" stroke="#444" stroke-width="1" stroke-dasharray="3,2" fill="none"/>
<circle cx="82.60" cy="421.00" r="4.2" fill="#666"/>
<circle cx="130.10" cy="433.30" r="4.2" fill="#666"/>
<circle cx="177.60" cy="439.00" r="4.2" fill="#666"/>
<circle cx="225.10" cy="442.80" r="4.2" fill="#666"/>
<line x1="57.00" y1="324.70" x2="80.60" y2="324.70" stroke="#333" stroke-width="1" stroke-dasharray="3,2"/>
<circle cx="70.20" cy="324.70" r="4.2" fill="#4a4a4a"/>
<line x1="57.00" y1="338.30" x2="80.60" y2="338.30" stroke="#aaa" stroke-width="1" stroke-dasharray="3,2"/>
<circle cx="70.20" cy="338.30" r="4.2" fill="#b0b0b0"/>
<text x="86.40" y="328.80" font-size="11.2" fill="#111" text-anchor="start" >3-stage RO</text>
<text x="86.40" y="342.40" font-size="11.2" fill="#111" text-anchor="start" >5-stage RO</text>
<line x1="64.00" y1="377.50" x2="75.70" y2="377.50" stroke="#111" stroke-width="1" stroke-dasharray="3,1.6"/>
<path d="M60.5,377.5 L65.5,375.2 L65.5,379.8 Z" fill="#111"/>
<line x1="233.30" y1="440.30" x2="245.00" y2="440.30" stroke="#111" stroke-width="1" stroke-dasharray="3,1.6"/>
<path d="M249,440.3 L244,438 L244,442.6 Z" fill="#111"/>
<text x="94.80" y="461.60" font-size="10.25" fill="#111" text-anchor="start" >Propagation stage delay time (ns)</text>
<rect x="53.3" y="313.2" width="201.5" height="158.3" fill="none" stroke="#000" stroke-width="1.3"/>
<line x1="82.60" y1="471.50" x2="82.60" y2="467.50" stroke="#000" stroke-width="1" />
<text x="82.60" y="486.00" font-size="11.2" fill="#000" text-anchor="middle" >0.5</text>
<line x1="130.10" y1="471.50" x2="130.10" y2="467.50" stroke="#000" stroke-width="1" />
<text x="130.10" y="486.00" font-size="11.2" fill="#000" text-anchor="middle" >1.0</text>
<line x1="177.60" y1="471.50" x2="177.60" y2="467.50" stroke="#000" stroke-width="1" />
<text x="177.60" y="486.00" font-size="11.2" fill="#000" text-anchor="middle" >1.5</text>
<line x1="225.10" y1="471.50" x2="225.10" y2="467.50" stroke="#000" stroke-width="1" />
<text x="225.10" y="486.00" font-size="11.2" fill="#000" text-anchor="middle" >2.0</text>
<line x1="58.85" y1="471.50" x2="58.85" y2="469.00" stroke="#000" stroke-width="1" />
<line x1="106.35" y1="471.50" x2="106.35" y2="469.00" stroke="#000" stroke-width="1" />
<line x1="153.85" y1="471.50" x2="153.85" y2="469.00" stroke="#000" stroke-width="1" />
<line x1="201.35" y1="471.50" x2="201.35" y2="469.00" stroke="#000" stroke-width="1" />
<line x1="248.85" y1="471.50" x2="248.85" y2="469.00" stroke="#000" stroke-width="1" />
<line x1="53.30" y1="461.41" x2="55.80" y2="461.41" stroke="#000" stroke-width="1" />
<line x1="53.30" y1="453.44" x2="55.80" y2="453.44" stroke="#000" stroke-width="1" />
<line x1="53.30" y1="446.94" x2="55.80" y2="446.94" stroke="#000" stroke-width="1" />
<line x1="53.30" y1="441.43" x2="55.80" y2="441.43" stroke="#000" stroke-width="1" />
<line x1="53.30" y1="436.67" x2="55.80" y2="436.67" stroke="#000" stroke-width="1" />
<line x1="53.30" y1="432.46" x2="55.80" y2="432.46" stroke="#000" stroke-width="1" />
<line x1="53.30" y1="428.70" x2="57.30" y2="428.70" stroke="#000" stroke-width="1" />
<line x1="53.30" y1="403.96" x2="55.80" y2="403.96" stroke="#000" stroke-width="1" />
<line x1="53.30" y1="389.48" x2="55.80" y2="389.48" stroke="#000" stroke-width="1" />
<line x1="53.30" y1="379.21" x2="55.80" y2="379.21" stroke="#000" stroke-width="1" />
<line x1="53.30" y1="371.24" x2="55.80" y2="371.24" stroke="#000" stroke-width="1" />
<line x1="53.30" y1="364.74" x2="55.80" y2="364.74" stroke="#000" stroke-width="1" />
<line x1="53.30" y1="359.23" x2="55.80" y2="359.23" stroke="#000" stroke-width="1" />
<line x1="53.30" y1="354.47" x2="55.80" y2="354.47" stroke="#000" stroke-width="1" />
<line x1="53.30" y1="350.26" x2="55.80" y2="350.26" stroke="#000" stroke-width="1" />
<line x1="53.30" y1="346.50" x2="57.30" y2="346.50" stroke="#000" stroke-width="1" />
<line x1="53.30" y1="321.76" x2="55.80" y2="321.76" stroke="#000" stroke-width="1" />
<text x="47.50" y="350.60" font-size="11.2" fill="#000" text-anchor="end" >10<tspan font-size="7.5" dy="-4.5">2</tspan></text>
<text x="47.50" y="432.80" font-size="11.2" fill="#000" text-anchor="end" >10<tspan font-size="7.5" dy="-4.5">1</tspan></text>
<line x1="250.80" y1="471.50" x2="254.80" y2="471.50" stroke="#000" stroke-width="1" />
<text x="259.30" y="474.50" font-size="11.2" fill="#000" text-anchor="start" >0</text>
<line x1="250.80" y1="439.86" x2="254.80" y2="439.86" stroke="#000" stroke-width="1" />
<text x="259.30" y="442.86" font-size="11.2" fill="#000" text-anchor="start" >2</text>
<line x1="250.80" y1="408.22" x2="254.80" y2="408.22" stroke="#000" stroke-width="1" />
<text x="259.30" y="411.22" font-size="11.2" fill="#000" text-anchor="start" >4</text>
<line x1="250.80" y1="376.58" x2="254.80" y2="376.58" stroke="#000" stroke-width="1" />
<text x="259.30" y="379.58" font-size="11.2" fill="#000" text-anchor="start" >6</text>
<line x1="250.80" y1="344.94" x2="254.80" y2="344.94" stroke="#000" stroke-width="1" />
<text x="259.30" y="347.94" font-size="11.2" fill="#000" text-anchor="start" >8</text>
<line x1="250.80" y1="313.30" x2="254.80" y2="313.30" stroke="#000" stroke-width="1" />
<text x="259.30" y="316.30" font-size="11.2" fill="#000" text-anchor="start" >10</text>
<text transform="translate(21.3,390) rotate(-90)" font-size="12.1" text-anchor="middle">Oscillation frequency (MHz)</text>
<text x="133.30" y="508.30" font-size="12.5" fill="#000" text-anchor="start" ><tspan font-style="italic">V</tspan><tspan font-size="9" dy="2">DD</tspan><tspan dy="-2"> (V)</tspan></text>
<ellipse cx="485" cy="376.5" rx="159" ry="51" transform="rotate(10.35 485 376.5)" fill="#fef9f8" stroke="#f9d6c8" stroke-width="1" stroke-dasharray="2,2"/>
<ellipse cx="408" cy="440" rx="84" ry="28" transform="rotate(9 408 440)" fill="#e8f0f9" stroke="#bcd8ee" stroke-width="0.8" stroke-dasharray="2,2"/>
<path d="M417.30,338.60 L456.10,344.20 L494.00,348.80 L533.10,355.20 L571.50,364.50" stroke="#bdbdbd" stroke-width="1.0" stroke-dasharray="3,2.5" fill="none"/>
<path d="M371.20,330.30 L402.00,350.20 L432.60,361.10 L463.70,375.40 L494.00,380.60 L525.70,388.70 L556.60,396.10 L587.10,399.10 L618.00,401.70" stroke="#bdbdbd" stroke-width="1.0" stroke-dasharray="3,2.5" fill="none"/>
<rect x="413.60" y="334.90" width="7.40" height="7.40" fill="#cfcfcf" fill-opacity="0.95"/>
<rect x="452.40" y="340.50" width="7.40" height="7.40" fill="#cfcfcf" fill-opacity="0.95"/>
<rect x="490.30" y="345.10" width="7.40" height="7.40" fill="#cfcfcf" fill-opacity="0.95"/>
<rect x="529.40" y="351.50" width="7.40" height="7.40" fill="#cfcfcf" fill-opacity="0.95"/>
<rect x="567.80" y="360.80" width="7.40" height="7.40" fill="#cfcfcf" fill-opacity="0.95"/>
<path d="M371.20,325.70 L375.80,330.30 L371.20,334.90 L366.60,330.30 Z" fill="#cfcfcf" fill-opacity="0.95"/>
<path d="M402.00,345.60 L406.60,350.20 L402.00,354.80 L397.40,350.20 Z" fill="#cfcfcf" fill-opacity="0.95"/>
<path d="M432.60,356.50 L437.20,361.10 L432.60,365.70 L428.00,361.10 Z" fill="#cfcfcf" fill-opacity="0.95"/>
<path d="M463.70,370.80 L468.30,375.40 L463.70,380.00 L459.10,375.40 Z" fill="#cfcfcf" fill-opacity="0.95"/>
<path d="M494.00,376.00 L498.60,380.60 L494.00,385.20 L489.40,380.60 Z" fill="#cfcfcf" fill-opacity="0.95"/>
<path d="M525.70,384.10 L530.30,388.70 L525.70,393.30 L521.10,388.70 Z" fill="#cfcfcf" fill-opacity="0.95"/>
<path d="M556.60,391.50 L561.20,396.10 L556.60,400.70 L552.00,396.10 Z" fill="#cfcfcf" fill-opacity="0.95"/>
<path d="M587.10,394.50 L591.70,399.10 L587.10,403.70 L582.50,399.10 Z" fill="#cfcfcf" fill-opacity="0.95"/>
<path d="M618.00,397.10 L622.60,401.70 L618.00,406.30 L613.40,401.70 Z" fill="#cfcfcf" fill-opacity="0.95"/>
<path d="M417.70,373.60 L432.60,379.10 L463.50,393.10 L494.40,398.70 L509.30,404.30 L555.80,409.90" stroke="#ff6a6a" stroke-width="1.1" stroke-dasharray="3,2.5" fill="none"/>
<path d="M363.80,387.60 L385.80,398.20 L416.90,412.80" stroke="#ff5a5a" stroke-width="1.2" stroke-dasharray="3,2.5" fill="none"/>
<path d="M371.20,360.40 L386.80,371.80 L432.60,384.60 L448.20,388.20 L463.90,392.40 L479.50,393.20 L494.40,396.80" stroke="#333" stroke-width="1.0" stroke-dasharray="3,2.5" fill="none"/>
<path d="M379.20,360.70 L417.70,376.00 L456.00,387.70 L494.40,391.60 L533.10,407.30 L571.50,411.70 L602.00,415.50" stroke="#5a5af0" stroke-width="1.0" stroke-dasharray="3,2.5" fill="none"/>
<path d="M417.70,382.00 L432.60,411.20 L463.50,417.30" stroke="#5a5af0" stroke-width="1.0" stroke-dasharray="3,2.5" fill="none"/>
<path d="M417.70,368.82 L422.30,376.79 L413.10,376.79 Z" fill="#ff7070" fill-opacity="0.6"/>
<path d="M432.60,374.32 L437.20,382.29 L428.00,382.29 Z" fill="#ff7070" fill-opacity="0.6"/>
<path d="M463.50,389.22 L468.10,397.19 L458.90,397.19 Z" fill="#ff7070" fill-opacity="0.6"/>
<path d="M494.40,393.92 L499.00,401.89 L489.80,401.89 Z" fill="#ff7070" fill-opacity="0.6"/>
<path d="M509.30,399.52 L513.90,407.49 L504.70,407.49 Z" fill="#ff7070" fill-opacity="0.6"/>
<path d="M533.10,402.52 L537.70,410.49 L528.50,410.49 Z" fill="#ff7070" fill-opacity="0.6"/>
<path d="M555.80,405.12 L560.40,413.09 L551.20,413.09 Z" fill="#ff7070" fill-opacity="0.6"/>
<path d="M571.50,406.92 L576.10,414.89 L566.90,414.89 Z" fill="#ff7070" fill-opacity="0.6"/>
<circle cx="345.30" cy="367.80" r="4.20" fill="#ff5c5c" fill-opacity="0.8"/>
<circle cx="346.60" cy="379.20" r="5.40" fill="#ff5c5c" fill-opacity="0.8"/>
<circle cx="355.90" cy="383.20" r="4.40" fill="#ff5c5c" fill-opacity="0.8"/>
<path d="M359.00,360.01 L363.80,368.33 L354.20,368.33 Z" fill="#ff5c5c" fill-opacity="0.5"/>
<path d="M360.88,362.39 L365.68,370.70 L356.07,370.70 Z" fill="#ff5c5c" fill-opacity="0.5"/>
<path d="M362.75,364.76 L367.55,373.08 L357.95,373.08 Z" fill="#ff5c5c" fill-opacity="0.5"/>
<path d="M364.62,367.14 L369.43,375.45 L359.82,375.45 Z" fill="#ff5c5c" fill-opacity="0.5"/>
<path d="M366.50,369.51 L371.30,377.83 L361.70,377.83 Z" fill="#ff5c5c" fill-opacity="0.5"/>
<path d="M368.38,371.89 L373.18,380.20 L363.57,380.20 Z" fill="#ff5c5c" fill-opacity="0.5"/>
<path d="M370.25,374.26 L375.05,382.58 L365.45,382.58 Z" fill="#ff5c5c" fill-opacity="0.5"/>
<path d="M372.12,376.64 L376.93,384.95 L367.32,384.95 Z" fill="#ff5c5c" fill-opacity="0.5"/>
<path d="M374.00,379.01 L378.80,387.33 L369.20,387.33 Z" fill="#ff5c5c" fill-opacity="0.5"/>
<path d="M349.3,351 L346.1,361.7 M349.3,351 L357.9,360.9" stroke="#ff7a7a" stroke-width="1.1" fill="none"/>
<polygon points="416.90,408.60 420.89,411.50 419.37,416.20 414.43,416.20 412.91,411.50" fill="#ff7070" fill-opacity="0.7"/>
<rect x="361.50" y="368.60" width="7.20" height="7.20" fill="#3c9c3c" fill-opacity="0.8"/>
<rect x="367.70" y="369.50" width="7.20" height="7.20" fill="#3c9c3c" fill-opacity="0.8"/>
<rect x="375.20" y="377.00" width="7.20" height="7.20" fill="#3c9c3c" fill-opacity="0.8"/>
<rect x="382.70" y="387.50" width="7.20" height="7.20" fill="#3c9c3c" fill-opacity="0.8"/>
<rect x="390.40" y="397.70" width="7.20" height="7.20" fill="#3c9c3c" fill-opacity="0.8"/>
<rect x="398.60" y="408.70" width="7.20" height="7.20" fill="#3c9c3c" fill-opacity="0.8"/>
<polygon points="378.80,372.50 382.70,375.33 381.21,379.92 376.39,379.92 374.90,375.33" fill="#3c9c3c" fill-opacity="0.75"/>
<polygon points="387.00,373.40 390.90,376.23 389.41,380.82 384.59,380.82 383.10,376.23" fill="#3c9c3c" fill-opacity="0.75"/>
<polygon points="396.00,373.40 399.90,376.23 398.41,380.82 393.59,380.82 392.10,376.23" fill="#3c9c3c" fill-opacity="0.75"/>
<polygon points="402.00,374.40 405.90,377.23 404.41,381.82 399.59,381.82 398.10,377.23" fill="#3c9c3c" fill-opacity="0.75"/>
<polygon points="409.10,375.10 413.00,377.93 411.51,382.52 406.69,382.52 405.20,377.93" fill="#3c9c3c" fill-opacity="0.75"/>
<path d="M371.20,355.80 L375.80,360.40 L371.20,365.00 L366.60,360.40 Z" fill="#707070" fill-opacity="0.9"/>
<path d="M386.80,367.20 L391.40,371.80 L386.80,376.40 L382.20,371.80 Z" fill="#707070" fill-opacity="0.9"/>
<path d="M432.60,380.00 L437.20,384.60 L432.60,389.20 L428.00,384.60 Z" fill="#707070" fill-opacity="0.9"/>
<path d="M448.20,383.60 L452.80,388.20 L448.20,392.80 L443.60,388.20 Z" fill="#707070" fill-opacity="0.9"/>
<path d="M463.90,387.80 L468.50,392.40 L463.90,397.00 L459.30,392.40 Z" fill="#707070" fill-opacity="0.9"/>
<path d="M479.50,388.60 L484.10,393.20 L479.50,397.80 L474.90,393.20 Z" fill="#707070" fill-opacity="0.9"/>
<path d="M494.40,392.20 L499.00,396.80 L494.40,401.40 L489.80,396.80 Z" fill="#707070" fill-opacity="0.9"/>
<path d="M379.20,355.92 L383.80,363.89 L374.60,363.89 Z" fill="#8c8cf8" fill-opacity="0.85"/>
<path d="M417.70,371.22 L422.30,379.19 L413.10,379.19 Z" fill="#8c8cf8" fill-opacity="0.85"/>
<path d="M456.00,382.92 L460.60,390.89 L451.40,390.89 Z" fill="#8c8cf8" fill-opacity="0.85"/>
<path d="M494.40,386.82 L499.00,394.79 L489.80,394.79 Z" fill="#8c8cf8" fill-opacity="0.85"/>
<path d="M533.10,402.52 L537.70,410.49 L528.50,410.49 Z" fill="#8c8cf8" fill-opacity="0.85"/>
<path d="M571.50,406.92 L576.10,414.89 L566.90,414.89 Z" fill="#8c8cf8" fill-opacity="0.85"/>
<path d="M602.00,410.72 L606.60,418.69 L597.40,418.69 Z" fill="#8c8cf8" fill-opacity="0.85"/>
<path d="M386.70,371.82 L391.30,379.79 L382.10,379.79 Z" fill="#8c8cf8" fill-opacity="0.85"/>
<path d="M401.70,373.22 L406.30,381.19 L397.10,381.19 Z" fill="#8c8cf8" fill-opacity="0.85"/>
<path d="M417.70,377.22 L422.30,385.19 L413.10,385.19 Z" fill="#8c8cf8" fill-opacity="0.85"/>
<path d="M432.60,406.42 L437.20,414.39 L428.00,414.39 Z" fill="#8c8cf8" fill-opacity="0.85"/>
<path d="M463.50,412.52 L468.10,420.49 L458.90,420.49 Z" fill="#8c8cf8" fill-opacity="0.85"/>
<rect x="338" y="422" width="42" height="11" rx="2" transform="rotate(17 359 427.5)" fill="#f7c4c4" fill-opacity="0.85"/>
<path d="M347.40,418.79 L352.80,428.14 L342.00,428.14 Z" fill="#f01010" fill-opacity="0.92"/>
<path d="M355.00,420.99 L360.40,430.34 L349.60,430.34 Z" fill="#f01010" fill-opacity="0.92"/>
<path d="M363.00,423.99 L368.40,433.34 L357.60,433.34 Z" fill="#f01010" fill-opacity="0.92"/>
<path d="M371.30,425.59 L376.70,434.94 L365.90,434.94 Z" fill="#f01010" fill-opacity="0.92"/>
<path d="M349.20,412.30 L354.20,417.30 L349.20,422.30 L344.20,417.30 Z" fill="#3a3a3a" fill-opacity="0.5"/>
<path d="M350.20,413.73 L355.20,418.73 L350.20,423.73 L345.20,418.73 Z" fill="#3a3a3a" fill-opacity="0.5"/>
<path d="M351.20,415.16 L356.20,420.16 L351.20,425.16 L346.20,420.16 Z" fill="#3a3a3a" fill-opacity="0.5"/>
<path d="M352.20,416.59 L357.20,421.59 L352.20,426.59 L347.20,421.59 Z" fill="#3a3a3a" fill-opacity="0.5"/>
<path d="M353.20,418.01 L358.20,423.01 L353.20,428.01 L348.20,423.01 Z" fill="#3a3a3a" fill-opacity="0.5"/>
<path d="M354.20,419.44 L359.20,424.44 L354.20,429.44 L349.20,424.44 Z" fill="#3a3a3a" fill-opacity="0.5"/>
<path d="M355.20,420.87 L360.20,425.87 L355.20,430.87 L350.20,425.87 Z" fill="#3a3a3a" fill-opacity="0.5"/>
<path d="M356.20,422.30 L361.20,427.30 L356.20,432.30 L351.20,427.30 Z" fill="#3a3a3a" fill-opacity="0.5"/>
<path d="M373.8,435.2 L383.6,440" stroke="#f01818" stroke-width="1.3"/>
<polygon points="348.40,448.00 352.20,450.76 350.75,455.24 346.05,455.24 344.60,450.76" fill="#f29090" fill-opacity="0.75"/>
<polygon points="356.10,451.20 359.90,453.96 358.45,458.44 353.75,458.44 352.30,453.96" fill="#f29090" fill-opacity="0.75"/>
<polygon points="363.50,454.80 367.30,457.56 365.85,462.04 361.15,462.04 359.70,457.56" fill="#f29090" fill-opacity="0.75"/>
<polygon points="371.50,458.60 375.30,461.36 373.85,465.84 369.15,465.84 367.70,461.36" fill="#f29090" fill-opacity="0.75"/>
<text x="346.10" y="328.90" font-size="10.2" fill="#b8b8b8" text-anchor="start" >ZnO</text>
<text x="405.50" y="330.60" font-size="10.2" fill="#b8b8b8" text-anchor="start" >IGZO</text>
<text x="335.20" y="348.40" font-size="10.2" fill="#ff7a7a" text-anchor="start" >MoS<tspan font-size="7.5" dy="2.5">2</tspan></text>
<text x="365.40" y="351.50" font-size="10.2" fill="#333" text-anchor="start" >GaN</text>
<text x="391.00" y="393.00" font-size="10.2" fill="#3c9c3c" text-anchor="start" >DNTT</text>
<text x="353.70" y="406.50" font-size="10.2" fill="#3c9c3c" text-anchor="start" >OPDBT</text>
<text x="358.20" y="425.10" font-size="10.2" fill="#333" text-anchor="start" >Si GAA (Simulation)</text>
<text x="386.60" y="443.60" font-size="10.15" fill="#f01818" text-anchor="start" >This work (Experiment)</text>
<text x="378.60" y="464.60" font-size="10.15" fill="#f29a9a" text-anchor="start" >MoS<tspan font-size="7.5" dy="2.5">2</tspan><tspan dy="-2.5">-WSe</tspan><tspan font-size="7.5" dy="2.5">2</tspan><tspan dy="-2.5"> (Simulation)</tspan></text>
<text x="488.50" y="455.00" font-size="10.15" fill="#111" text-anchor="start" >Vertical CMOS based ROs</text>
<text x="557.30" y="383.00" font-size="10.2" fill="#111" text-anchor="start" >Lateral CMOS based ROs</text>
<text x="471.00" y="422.30" font-size="10.2" fill="#9a9ae8" text-anchor="start" >CNT</text>
<text x="608.70" y="422.30" font-size="10.2" fill="#9a9ae8" text-anchor="start" >CNT</text>
<text x="504.50" y="418.30" font-size="10.2" fill="#f59a9a" text-anchor="start" >MoS<tspan font-size="7.5" dy="2.5">2</tspan></text>
<text x="673.80" y="325.80" font-size="10.2" fill="#000" text-anchor="end" ><tspan fill="#f5a0a8">2D semiconductor, </tspan><tspan fill="#4fae4f">Organic,</tspan></text>
<text x="673.80" y="339.50" font-size="10.2" fill="#000" text-anchor="end" ><tspan fill="#a0a0e0">CNT, </tspan><tspan fill="#bbb">Oxides, </tspan><tspan fill="#333">Si/GaN</tspan></text>
<rect x="325.6" y="313.3" width="354.19999999999993" height="158.7" fill="none" stroke="#000" stroke-width="1.3"/>
<line x1="325.60" y1="463.35" x2="328.10" y2="463.35" stroke="#000" stroke-width="1" />
<line x1="325.60" y1="457.72" x2="328.10" y2="457.72" stroke="#000" stroke-width="1" />
<line x1="325.60" y1="453.72" x2="328.10" y2="453.72" stroke="#000" stroke-width="1" />
<line x1="325.60" y1="450.62" x2="328.10" y2="450.62" stroke="#000" stroke-width="1" />
<line x1="325.60" y1="448.09" x2="328.10" y2="448.09" stroke="#000" stroke-width="1" />
<line x1="325.60" y1="445.95" x2="328.10" y2="445.95" stroke="#000" stroke-width="1" />
<line x1="325.60" y1="444.10" x2="328.10" y2="444.10" stroke="#000" stroke-width="1" />
<line x1="325.60" y1="442.46" x2="328.10" y2="442.46" stroke="#000" stroke-width="1" />
<text x="320.80" y="477.17" font-size="11.2" fill="#000" text-anchor="end" >10<tspan font-size="7.5" dy="-4.5">-1</tspan></text>
<line x1="325.60" y1="441.00" x2="329.60" y2="441.00" stroke="#000" stroke-width="1" />
<line x1="325.60" y1="431.38" x2="328.10" y2="431.38" stroke="#000" stroke-width="1" />
<line x1="325.60" y1="425.75" x2="328.10" y2="425.75" stroke="#000" stroke-width="1" />
<line x1="325.60" y1="421.75" x2="328.10" y2="421.75" stroke="#000" stroke-width="1" />
<line x1="325.60" y1="418.65" x2="328.10" y2="418.65" stroke="#000" stroke-width="1" />
<line x1="325.60" y1="416.12" x2="328.10" y2="416.12" stroke="#000" stroke-width="1" />
<line x1="325.60" y1="413.98" x2="328.10" y2="413.98" stroke="#000" stroke-width="1" />
<line x1="325.60" y1="412.13" x2="328.10" y2="412.13" stroke="#000" stroke-width="1" />
<line x1="325.60" y1="410.49" x2="328.10" y2="410.49" stroke="#000" stroke-width="1" />
<text x="320.80" y="445.20" font-size="11.2" fill="#000" text-anchor="end" >10<tspan font-size="7.5" dy="-4.5">0</tspan></text>
<line x1="325.60" y1="409.03" x2="329.60" y2="409.03" stroke="#000" stroke-width="1" />
<line x1="325.60" y1="399.41" x2="328.10" y2="399.41" stroke="#000" stroke-width="1" />
<line x1="325.60" y1="393.78" x2="328.10" y2="393.78" stroke="#000" stroke-width="1" />
<line x1="325.60" y1="389.78" x2="328.10" y2="389.78" stroke="#000" stroke-width="1" />
<line x1="325.60" y1="386.68" x2="328.10" y2="386.68" stroke="#000" stroke-width="1" />
<line x1="325.60" y1="384.15" x2="328.10" y2="384.15" stroke="#000" stroke-width="1" />
<line x1="325.60" y1="382.01" x2="328.10" y2="382.01" stroke="#000" stroke-width="1" />
<line x1="325.60" y1="380.16" x2="328.10" y2="380.16" stroke="#000" stroke-width="1" />
<line x1="325.60" y1="378.52" x2="328.10" y2="378.52" stroke="#000" stroke-width="1" />
<text x="320.80" y="413.23" font-size="11.2" fill="#000" text-anchor="end" >10<tspan font-size="7.5" dy="-4.5">1</tspan></text>
<line x1="325.60" y1="377.06" x2="329.60" y2="377.06" stroke="#000" stroke-width="1" />
<line x1="325.60" y1="367.44" x2="328.10" y2="367.44" stroke="#000" stroke-width="1" />
<line x1="325.60" y1="361.81" x2="328.10" y2="361.81" stroke="#000" stroke-width="1" />
<line x1="325.60" y1="357.81" x2="328.10" y2="357.81" stroke="#000" stroke-width="1" />
<line x1="325.60" y1="354.71" x2="328.10" y2="354.71" stroke="#000" stroke-width="1" />
<line x1="325.60" y1="352.18" x2="328.10" y2="352.18" stroke="#000" stroke-width="1" />
<line x1="325.60" y1="350.04" x2="328.10" y2="350.04" stroke="#000" stroke-width="1" />
<line x1="325.60" y1="348.19" x2="328.10" y2="348.19" stroke="#000" stroke-width="1" />
<line x1="325.60" y1="346.55" x2="328.10" y2="346.55" stroke="#000" stroke-width="1" />
<text x="320.80" y="381.26" font-size="11.2" fill="#000" text-anchor="end" >10<tspan font-size="7.5" dy="-4.5">2</tspan></text>
<line x1="325.60" y1="345.09" x2="329.60" y2="345.09" stroke="#000" stroke-width="1" />
<line x1="325.60" y1="335.47" x2="328.10" y2="335.47" stroke="#000" stroke-width="1" />
<line x1="325.60" y1="329.84" x2="328.10" y2="329.84" stroke="#000" stroke-width="1" />
<line x1="325.60" y1="325.84" x2="328.10" y2="325.84" stroke="#000" stroke-width="1" />
<line x1="325.60" y1="322.74" x2="328.10" y2="322.74" stroke="#000" stroke-width="1" />
<line x1="325.60" y1="320.21" x2="328.10" y2="320.21" stroke="#000" stroke-width="1" />
<line x1="325.60" y1="318.07" x2="328.10" y2="318.07" stroke="#000" stroke-width="1" />
<line x1="325.60" y1="316.22" x2="328.10" y2="316.22" stroke="#000" stroke-width="1" />
<line x1="325.60" y1="314.58" x2="328.10" y2="314.58" stroke="#000" stroke-width="1" />
<text x="320.80" y="349.29" font-size="11.2" fill="#000" text-anchor="end" >10<tspan font-size="7.5" dy="-4.5">3</tspan></text>
<text x="320.80" y="317.32" font-size="11.2" fill="#000" text-anchor="end" >10<tspan font-size="7.5" dy="-4.5">4</tspan></text>
<line x1="340.00" y1="472.00" x2="340.00" y2="468.00" stroke="#000" stroke-width="1" />
<text x="340.00" y="486.40" font-size="11.2" fill="#000" text-anchor="middle" >0</text>
<line x1="417.10" y1="472.00" x2="417.10" y2="468.00" stroke="#000" stroke-width="1" />
<text x="417.10" y="486.40" font-size="11.2" fill="#000" text-anchor="middle" >5</text>
<line x1="494.20" y1="472.00" x2="494.20" y2="468.00" stroke="#000" stroke-width="1" />
<text x="494.20" y="486.40" font-size="11.2" fill="#000" text-anchor="middle" >10</text>
<line x1="571.30" y1="472.00" x2="571.30" y2="468.00" stroke="#000" stroke-width="1" />
<text x="571.30" y="486.40" font-size="11.2" fill="#000" text-anchor="middle" >15</text>
<line x1="648.40" y1="472.00" x2="648.40" y2="468.00" stroke="#000" stroke-width="1" />
<text x="648.40" y="486.40" font-size="11.2" fill="#000" text-anchor="middle" >20</text>
<line x1="378.55" y1="472.00" x2="378.55" y2="469.50" stroke="#000" stroke-width="1" />
<line x1="455.65" y1="472.00" x2="455.65" y2="469.50" stroke="#000" stroke-width="1" />
<line x1="532.75" y1="472.00" x2="532.75" y2="469.50" stroke="#000" stroke-width="1" />
<line x1="609.85" y1="472.00" x2="609.85" y2="469.50" stroke="#000" stroke-width="1" />
<text transform="translate(291.8,394) rotate(-90)" font-size="12.5" text-anchor="middle">Propagation stage delay (ns)</text>
<text x="482.00" y="508.20" font-size="12.5" fill="#000" text-anchor="start" ><tspan font-style="italic">V</tspan><tspan font-size="9" dy="2">DD</tspan><tspan dy="-2"> (V)</tspan></text>
<g filter="url(#soft)">
<polygon points="72,104 262,137 300,145 298,152 250,150 75,118" fill="#efeef6"/>
<polygon points="80,56 300,99 300,142 74,104" fill="#f1eff5"/>
<polygon points="86.00,50.30 311.00,94.30 311.00,98.30 86.00,54.30" fill="#dcc470" />
<polygon points="86.00,53.30 311.00,97.30 311.00,98.30 86.00,54.30" fill="#c4aa56" />
<polygon points="110.0,59.3 122.0,61.6 122.0,63.6 110.0,61.3" fill="#f8f6f4"/>
<polygon points="146.3,66.4 158.3,68.7 158.3,70.7 146.3,68.4" fill="#f8f6f4"/>
<polygon points="182.6,73.5 194.6,75.8 194.6,77.8 182.6,75.5" fill="#f8f6f4"/>
<polygon points="218.9,80.6 230.9,82.9 230.9,84.9 218.9,82.6" fill="#f8f6f4"/>
<polygon points="255.2,87.7 267.2,90.0 267.2,92.0 255.2,89.7" fill="#f8f6f4"/>
<polygon points="293.0,95.1 305.0,97.4 305.0,99.4 293.0,97.1" fill="#f8f6f4"/>
<polygon points="80.10,97.55 106.60,102.05 106.60,106.85 80.10,102.34" fill="#627a8a" />
<polygon points="80.10,94.65 106.60,99.15 106.60,102.25 80.10,97.75" fill="#d8b850" />
<polygon points="81.60,86.90 106.60,91.15 106.60,99.35 81.60,95.10" fill="#5e5e56" />
<polygon points="81.60,80.10 107.10,84.43 107.10,91.43 81.60,87.10" fill="#e0c25c" />
<polygon points="81.60,80.10 107.10,84.43 107.10,85.93 81.60,81.60" fill="#f0de8e" />
<polygon points="106.10,83.77 112.60,81.87 112.60,101.87 106.10,106.77" fill="#56606e" />
<polygon points="83.60,55.94 90.60,57.13 90.60,82.13 83.60,80.94" fill="#a9bccf" />
<polygon points="90.60,57.13 114.60,61.21 114.60,77.21 90.60,73.13" fill="#a38d76" />
<polygon points="98.60,62.49 116.60,65.55 116.60,88.55 98.60,85.49" fill="#8099b1" />
<polygon points="100.60,64.33 101.90,64.55 101.90,85.05 100.60,84.83" fill="#96abc0" opacity="0.5"/>
<polygon points="103.80,65.87 105.10,66.09 105.10,85.59 103.80,85.37" fill="#96abc0" opacity="0.5"/>
<polygon points="107.00,67.42 108.30,67.64 108.30,86.14 107.00,85.92" fill="#96abc0" opacity="0.5"/>
<polygon points="110.20,68.96 111.50,69.18 111.50,86.68 110.20,86.46" fill="#96abc0" opacity="0.5"/>
<polygon points="113.40,70.51 114.70,70.73 114.70,87.23 113.40,87.01" fill="#96abc0" opacity="0.5"/>
<polygon points="86.60,70.95 90.10,67.54 102.60,69.67 99.10,73.07" fill="#f6e69c" />
<polygon points="86.60,70.95 99.10,73.07 99.10,84.57 86.60,82.45" fill="#efd566" />
<polygon points="91.10,81.71 94.10,82.22 94.10,97.22 91.10,96.71" fill="#dcbc52" />
<polygon points="96.60,53.65 109.60,55.86 109.60,63.36 96.60,61.15" fill="#e6c858" />
<polygon points="96.60,53.65 109.60,55.86 109.60,57.86 96.60,55.65" fill="#f3e39c" />
<polygon points="115.60,81.38 118.10,81.80 118.10,102.80 115.60,102.38" fill="#d6b64e" />
<polygon points="106.60,98.85 118.10,100.80 118.10,102.80 106.60,100.85" fill="#d6b64e" />
<polygon points="111.60,63.70 114.10,64.12 116.60,87.55 114.10,87.12" fill="#dcc060" />
<polygon points="116.40,104.75 142.90,109.25 142.90,114.05 116.40,109.55" fill="#627a8a" />
<polygon points="116.40,101.84 142.90,106.35 142.90,109.45 116.40,104.95" fill="#d8b850" />
<polygon points="117.90,94.10 142.90,98.35 142.90,106.55 117.90,102.30" fill="#5e5e56" />
<polygon points="117.90,87.30 143.40,91.64 143.40,98.64 117.90,94.30" fill="#e0c25c" />
<polygon points="117.90,87.30 143.40,91.64 143.40,93.14 117.90,88.80" fill="#f0de8e" />
<polygon points="142.40,90.97 148.90,89.07 148.90,109.07 142.40,113.97" fill="#56606e" />
<polygon points="119.90,63.14 126.90,64.33 126.90,89.33 119.90,88.14" fill="#a9bccf" />
<polygon points="126.90,64.33 150.90,68.41 150.90,84.41 126.90,80.33" fill="#a38d76" />
<polygon points="134.90,69.69 152.90,72.75 152.90,95.75 134.90,92.69" fill="#8099b1" />
<polygon points="136.90,71.53 138.20,71.75 138.20,92.25 136.90,92.03" fill="#96abc0" opacity="0.5"/>
<polygon points="140.10,73.07 141.40,73.30 141.40,92.80 140.10,92.57" fill="#96abc0" opacity="0.5"/>
<polygon points="143.30,74.62 144.60,74.84 144.60,93.34 143.30,93.12" fill="#96abc0" opacity="0.5"/>
<polygon points="146.50,76.16 147.80,76.38 147.80,93.88 146.50,93.66" fill="#96abc0" opacity="0.5"/>
<polygon points="149.70,77.71 151.00,77.93 151.00,94.43 149.70,94.21" fill="#96abc0" opacity="0.5"/>
<polygon points="122.90,78.15 126.40,74.75 138.90,76.87 135.40,80.28" fill="#f6e69c" />
<polygon points="122.90,78.15 135.40,80.28 135.40,91.78 122.90,89.65" fill="#efd566" />
<polygon points="127.40,88.92 130.40,89.43 130.40,104.43 127.40,103.92" fill="#dcbc52" />
<polygon points="132.90,60.85 145.90,63.06 145.90,70.56 132.90,68.35" fill="#e6c858" />
<polygon points="132.90,60.85 145.90,63.06 145.90,65.06 132.90,62.85" fill="#f3e39c" />
<polygon points="151.90,88.58 154.40,89.01 154.40,110.01 151.90,109.58" fill="#d6b64e" />
<polygon points="142.90,106.05 154.40,108.01 154.40,110.01 142.90,108.05" fill="#d6b64e" />
<polygon points="147.90,70.90 150.40,71.33 152.90,94.75 150.40,94.33" fill="#dcc060" />
<polygon points="152.70,111.95 179.20,116.45 179.20,121.25 152.70,116.75" fill="#627a8a" />
<polygon points="152.70,109.05 179.20,113.55 179.20,116.65 152.70,112.15" fill="#d8b850" />
<polygon points="154.20,101.30 179.20,105.55 179.20,113.75 154.20,109.50" fill="#5e5e56" />
<polygon points="154.20,94.50 179.70,98.83 179.70,105.83 154.20,101.50" fill="#e0c25c" />
<polygon points="154.20,94.50 179.70,98.83 179.70,100.33 154.20,96.00" fill="#f0de8e" />
<polygon points="178.70,98.17 185.20,96.27 185.20,116.27 178.70,121.17" fill="#56606e" />
<polygon points="156.20,70.34 163.20,71.53 163.20,96.53 156.20,95.34" fill="#a9bccf" />
<polygon points="163.20,71.53 187.20,75.61 187.20,91.61 163.20,87.53" fill="#a38d76" />
<polygon points="171.20,76.89 189.20,79.95 189.20,102.95 171.20,99.89" fill="#8099b1" />
<polygon points="173.20,78.73 174.50,78.95 174.50,99.45 173.20,99.23" fill="#96abc0" opacity="0.5"/>
<polygon points="176.40,80.27 177.70,80.50 177.70,100.00 176.40,99.77" fill="#96abc0" opacity="0.5"/>
<polygon points="179.60,81.82 180.90,82.04 180.90,100.54 179.60,100.32" fill="#96abc0" opacity="0.5"/>
<polygon points="182.80,83.36 184.10,83.58 184.10,101.08 182.80,100.86" fill="#96abc0" opacity="0.5"/>
<polygon points="186.00,84.91 187.30,85.13 187.30,101.63 186.00,101.41" fill="#96abc0" opacity="0.5"/>
<polygon points="159.20,85.35 162.70,81.94 175.20,84.07 171.70,87.47" fill="#f6e69c" />
<polygon points="159.20,85.35 171.70,87.47 171.70,98.97 159.20,96.85" fill="#efd566" />
<polygon points="163.70,96.11 166.70,96.62 166.70,111.62 163.70,111.11" fill="#dcbc52" />
<polygon points="169.20,68.05 182.20,70.26 182.20,77.76 169.20,75.55" fill="#e6c858" />
<polygon points="169.20,68.05 182.20,70.26 182.20,72.26 169.20,70.05" fill="#f3e39c" />
<polygon points="188.20,95.78 190.70,96.20 190.70,117.20 188.20,116.78" fill="#d6b64e" />
<polygon points="179.20,113.25 190.70,115.20 190.70,117.20 179.20,115.25" fill="#d6b64e" />
<polygon points="184.20,78.10 186.70,78.53 189.20,101.95 186.70,101.53" fill="#dcc060" />
<polygon points="189.00,119.15 215.50,123.65 215.50,128.45 189.00,123.95" fill="#627a8a" />
<polygon points="189.00,116.25 215.50,120.75 215.50,123.85 189.00,119.34" fill="#d8b850" />
<polygon points="190.50,108.50 215.50,112.75 215.50,120.95 190.50,116.70" fill="#5e5e56" />
<polygon points="190.50,101.70 216.00,106.03 216.00,113.03 190.50,108.70" fill="#e0c25c" />
<polygon points="190.50,101.70 216.00,106.03 216.00,107.53 190.50,103.20" fill="#f0de8e" />
<polygon points="215.00,105.37 221.50,103.47 221.50,123.47 215.00,128.37" fill="#56606e" />
<polygon points="192.50,77.54 199.50,78.73 199.50,103.73 192.50,102.54" fill="#a9bccf" />
<polygon points="199.50,78.73 223.50,82.81 223.50,98.81 199.50,94.73" fill="#a38d76" />
<polygon points="207.50,84.09 225.50,87.15 225.50,110.15 207.50,107.09" fill="#8099b1" />
<polygon points="209.50,85.93 210.80,86.15 210.80,106.65 209.50,106.43" fill="#96abc0" opacity="0.5"/>
<polygon points="212.70,87.47 214.00,87.70 214.00,107.20 212.70,106.97" fill="#96abc0" opacity="0.5"/>
<polygon points="215.90,89.02 217.20,89.24 217.20,107.74 215.90,107.52" fill="#96abc0" opacity="0.5"/>
<polygon points="219.10,90.56 220.40,90.78 220.40,108.28 219.10,108.06" fill="#96abc0" opacity="0.5"/>
<polygon points="222.30,92.11 223.60,92.33 223.60,108.83 222.30,108.61" fill="#96abc0" opacity="0.5"/>
<polygon points="195.50,92.55 199.00,89.14 211.50,91.27 208.00,94.67" fill="#f6e69c" />
<polygon points="195.50,92.55 208.00,94.67 208.00,106.17 195.50,104.05" fill="#efd566" />
<polygon points="200.00,103.31 203.00,103.83 203.00,118.83 200.00,118.31" fill="#dcbc52" />
<polygon points="205.50,75.25 218.50,77.46 218.50,84.96 205.50,82.75" fill="#e6c858" />
<polygon points="205.50,75.25 218.50,77.46 218.50,79.46 205.50,77.25" fill="#f3e39c" />
<polygon points="224.50,102.98 227.00,103.41 227.00,124.41 224.50,123.98" fill="#d6b64e" />
<polygon points="215.50,120.45 227.00,122.41 227.00,124.41 215.50,122.45" fill="#d6b64e" />
<polygon points="220.50,85.30 223.00,85.73 225.50,109.15 223.00,108.73" fill="#dcc060" />
<polygon points="225.30,126.35 251.80,130.85 251.80,135.65 225.30,131.15" fill="#627a8a" />
<polygon points="225.30,123.45 251.80,127.95 251.80,131.05 225.30,126.55" fill="#d8b850" />
<polygon points="226.80,115.70 251.80,119.95 251.80,128.15 226.80,123.90" fill="#5e5e56" />
<polygon points="226.80,108.90 252.30,113.23 252.30,120.23 226.80,115.90" fill="#e0c25c" />
<polygon points="226.80,108.90 252.30,113.23 252.30,114.73 226.80,110.40" fill="#f0de8e" />
<polygon points="251.30,112.57 257.80,110.67 257.80,130.67 251.30,135.56" fill="#56606e" />
<polygon points="228.80,84.74 235.80,85.93 235.80,110.93 228.80,109.74" fill="#a9bccf" />
<polygon points="235.80,85.93 259.80,90.01 259.80,106.01 235.80,101.93" fill="#a38d76" />
<polygon points="243.80,91.29 261.80,94.35 261.80,117.35 243.80,114.29" fill="#8099b1" />
<polygon points="245.80,93.13 247.10,93.35 247.10,113.85 245.80,113.63" fill="#96abc0" opacity="0.5"/>
<polygon points="249.00,94.67 250.30,94.90 250.30,114.40 249.00,114.17" fill="#96abc0" opacity="0.5"/>
<polygon points="252.20,96.22 253.50,96.44 253.50,114.94 252.20,114.72" fill="#96abc0" opacity="0.5"/>
<polygon points="255.40,97.76 256.70,97.98 256.70,115.48 255.40,115.26" fill="#96abc0" opacity="0.5"/>
<polygon points="258.60,99.31 259.90,99.53 259.90,116.03 258.60,115.81" fill="#96abc0" opacity="0.5"/>
<polygon points="231.80,99.75 235.30,96.34 247.80,98.47 244.30,101.88" fill="#f6e69c" />
<polygon points="231.80,99.75 244.30,101.88 244.30,113.38 231.80,111.25" fill="#efd566" />
<polygon points="236.30,110.52 239.30,111.03 239.30,126.03 236.30,125.52" fill="#dcbc52" />
<polygon points="241.80,82.45 254.80,84.66 254.80,92.16 241.80,89.95" fill="#e6c858" />
<polygon points="241.80,82.45 254.80,84.66 254.80,86.66 241.80,84.45" fill="#f3e39c" />
<polygon points="260.80,110.18 263.30,110.61 263.30,131.61 260.80,131.18" fill="#d6b64e" />
<polygon points="251.80,127.65 263.30,129.61 263.30,131.61 251.80,129.65" fill="#d6b64e" />
<polygon points="256.80,92.50 259.30,92.93 261.80,116.35 259.30,115.93" fill="#dcc060" />
<polygon points="265.50,135.44 292.00,139.95 292.00,144.75 265.50,140.25" fill="#627a8a" />
<polygon points="265.50,132.55 292.00,137.05 292.00,140.15 265.50,135.65" fill="#d8b850" />
<polygon points="267.00,124.80 292.00,129.05 292.00,137.25 267.00,133.00" fill="#5e5e56" />
<polygon points="267.00,118.00 292.50,122.33 292.50,129.34 267.00,125.00" fill="#e0c25c" />
<polygon points="267.00,118.00 292.50,122.33 292.50,123.83 267.00,119.50" fill="#f0de8e" />
<polygon points="291.50,121.67 298.00,119.77 298.00,139.77 291.50,144.66" fill="#56606e" />
<polygon points="269.00,93.84 276.00,95.03 276.00,120.03 269.00,118.84" fill="#a9bccf" />
<polygon points="276.00,95.03 300.00,99.11 300.00,115.11 276.00,111.03" fill="#a38d76" />
<polygon points="284.00,100.39 302.00,103.45 302.00,126.45 284.00,123.39" fill="#8099b1" />
<polygon points="286.00,102.23 287.30,102.45 287.30,122.95 286.00,122.73" fill="#96abc0" opacity="0.5"/>
<polygon points="289.20,103.77 290.50,104.00 290.50,123.50 289.20,123.27" fill="#96abc0" opacity="0.5"/>
<polygon points="292.40,105.32 293.70,105.54 293.70,124.04 292.40,123.82" fill="#96abc0" opacity="0.5"/>
<polygon points="295.60,106.86 296.90,107.08 296.90,124.58 295.60,124.36" fill="#96abc0" opacity="0.5"/>
<polygon points="298.80,108.41 300.10,108.63 300.10,125.13 298.80,124.91" fill="#96abc0" opacity="0.5"/>
<polygon points="272.00,108.85 275.50,105.44 288.00,107.57 284.50,110.97" fill="#f6e69c" />
<polygon points="272.00,108.85 284.50,110.97 284.50,122.47 272.00,120.35" fill="#efd566" />
<polygon points="276.50,119.61 279.50,120.12 279.50,135.12 276.50,134.62" fill="#dcbc52" />
<polygon points="282.00,91.55 295.00,93.76 295.00,101.26 282.00,99.05" fill="#e6c858" />
<polygon points="282.00,91.55 295.00,93.76 295.00,95.76 282.00,93.55" fill="#f3e39c" />
<polygon points="301.00,119.28 303.50,119.70 303.50,140.71 301.00,140.28" fill="#d6b64e" />
<polygon points="292.00,136.75 303.50,138.71 303.50,140.71 292.00,138.75" fill="#d6b64e" />
<polygon points="297.00,101.60 299.50,102.03 302.00,125.45 299.50,125.03" fill="#dcc060" />
<path d="M78,80 L70.5,93.5 L72.5,102 L108,110.5" stroke="#d6b554" stroke-width="1.6" fill="none"/>
<polygon points="72.00,105.00 262.00,138.00 262.00,140.00 72.00,107.00" fill="#d6b554" />
<line x1="206.00" y1="63.70" x2="206.00" y2="72.00" stroke="#d8b850" stroke-width="1.2" />
</g>
<polygon points="84.2,43.3 266.6,77.4 255.8,145 70.5,110.3" fill="none" stroke="#2b6688" stroke-width="1.2" stroke-dasharray="4,2.2"/>
<polygon points="272.4,79.4 306.7,85.8 295,152.5 260.7,147.5" fill="none" stroke="#4a9a3a" stroke-width="1.1" stroke-dasharray="3,2"/>
<path d="M88,48.6 L119.5,54 Q122,54.6 121.5,57 L113.8,103.5 Q113.2,106.3 110.5,106 L80,99.4 Q77.3,98.7 77.7,96 L85.2,51 Q85.8,48.3 88,48.6 Z" fill="none" stroke="#111" stroke-width="1.4" stroke-dasharray="3,2"/>
<rect x="1" y="38.8" width="60.7" height="74.4" rx="2" fill="none" stroke="#111" stroke-width="1.3" stroke-dasharray="3,2"/>
<line x1="61.70" y1="38.80" x2="86.10" y2="48.60" stroke="#111" stroke-width="1.3" stroke-dasharray="3,2"/>
<line x1="61.70" y1="113.20" x2="107.00" y2="106.30" stroke="#111" stroke-width="1.3" stroke-dasharray="3,2"/>
<text x="4.00" y="62.20" font-size="10.2" fill="#f55560" text-anchor="start" >MoS<tspan font-size="7.8" dy="2.5">2</tspan><tspan dy="-2.5"> nFET</tspan></text>
<text x="30.30" y="77.60" font-size="10" fill="#111" text-anchor="middle" >+</text>
<text x="4.00" y="93.50" font-size="10.2" fill="#7ea4f0" text-anchor="start" >WSe<tspan font-size="7.8" dy="2.5">2</tspan><tspan dy="-2.5"> pFET</tspan></text>
<text x="203.80" y="59.20" font-size="9.8" fill="#111" text-anchor="start" transform="rotate(8 203.8 59.2)"><tspan font-style="italic">V</tspan><tspan font-size="7.5" dy="3">DD</tspan></text>
<text x="259.00" y="74.00" font-size="10.3" fill="#3f9030" text-anchor="start" transform="rotate(9.5 259 74)">Readout buffer</text>
<text x="305.70" y="107.00" font-size="8.9" fill="#111" text-anchor="start" >GND</text>
<text x="182.00" y="143.50" font-size="10.4" fill="#2b6688" text-anchor="start" transform="rotate(8 182 143.5)">Closed loop</text>
<text x="262.00" y="158.00" font-size="10" fill="#111" text-anchor="start" transform="rotate(8 262 158)"><tspan font-style="italic">V</tspan><tspan font-size="7.5" dy="2">OUT</tspan></text>
</svg></body></html>
